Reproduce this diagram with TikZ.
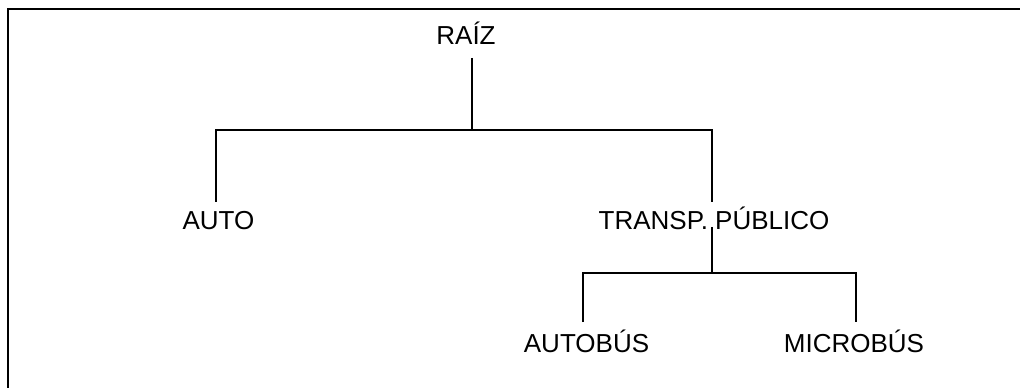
\documentclass[tikz,border=0pt]{standalone}
\usepackage{fontspec}
\setmainfont{Liberation Sans}

\tikzset{
  lbl/.style={anchor=base,inner sep=0.75pt,font=\fontsize{19.5}{23}\selectfont},
  branch/.style={line width=1.5pt,line join=miter}
}

\begin{document}
\begin{tikzpicture}[x=0.75pt,y=0.75pt,yscale=-1,xscale=1]
\useasboundingbox (0,0) rectangle (1020,388);
\clip (0,0) rectangle (1020,388);

%Frame (only top and left edges show)
\draw [line width=1.5pt] (7.5,395) -- (7.5,9.5) -- (1030,9.5) ;

% Text Node
\node [lbl] (raiz) at (466,45) {RAÍZ};
% Text Node
\node [lbl] (auto) at (218.5,229) {AUTO};
% Text Node
\node [lbl] (transp) at (714,230) {TRANSP. PÚBLICO};
% Text Node
\node [lbl] (autobus) at (586.5,352) {AUTOBÚS};
% Text Node
\node [lbl] (microbus) at (854,352) {MICROBÚS};

%Line ends and forks
\coordinate (raiz-s) at (471.7,58);
\coordinate (fork1) at (471.7,130);
\coordinate (auto-n) at (216,202);
\coordinate (transp-n) at (711.7,202);
\coordinate (transp-s) at (711.7,227);
\coordinate (fork2) at (711.7,273);
\coordinate (autobus-n) at (583,322);
\coordinate (microbus-n) at (856,322);

%Straight Lines
\draw [branch] (raiz-s) -- (fork1) ;
\draw [branch] (auto-n) |- (fork1) -| (transp-n) ;
%Straight Lines
\draw [branch] (transp-s) -- (fork2) ;
\draw [branch] (autobus-n) |- (fork2) -| (microbus-n) ;

\end{tikzpicture}
\end{document}
